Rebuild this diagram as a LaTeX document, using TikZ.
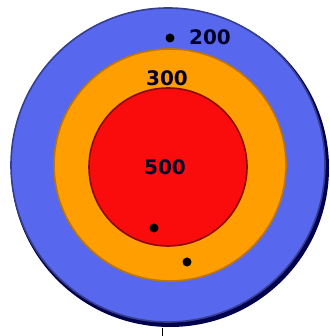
\documentclass[tikz,border=0pt]{standalone}
\usepackage{fontspec}
\setmainfont{DejaVu Sans}
\definecolor{ringblue}{RGB}{88,104,238}
\definecolor{ringorange}{RGB}{255,158,0}
\definecolor{ringred}{RGB}{250,12,12}
\tikzset{
  ring/.style={circle, inner sep=0pt, line width=1.6pt},
  score/.style={font=\bfseries\fontsize{20}{20}\selectfont, text=black!85!blue},
  hit/.style={circle, fill=black, inner sep=0pt, minimum size=9pt}
}
\begin{document}
\begin{tikzpicture}[x=1pt,y=1pt]
  \useasboundingbox (0,0) rectangle (329,336);
  % target rings
  \node[ring, fill=black!70!blue, minimum size=318pt] (shadow) at (170,168) {};
  \node[ring, fill=ringblue, draw=ringblue!60!black, minimum size=314pt] (outer) at (168,171) {};
  \node[ring, fill=ringorange, draw=ringorange!75!black, minimum size=232pt] (middle) at (170,171) {};
  \node[ring, fill=ringred, draw=ringred!55!black, minimum size=158pt] (inner) at (168,169) {};
  % scores
  \node[score] (s200) at (210,299) {200};
  \node[score] (s300) at (167,258) {300};
  \node[score] (s500) at (165,169) {500};
  % hits
  \foreach \x/\y/\name in {170/298/hitA, 154/108/hitB, 187/74/hitC}
    \node[hit] (\name) at (\x,\y) {};
  \coordinate (tick) at (162,0);
  \draw[line width=1pt] (tick) -- ++(0,8);
\end{tikzpicture}
\end{document}
